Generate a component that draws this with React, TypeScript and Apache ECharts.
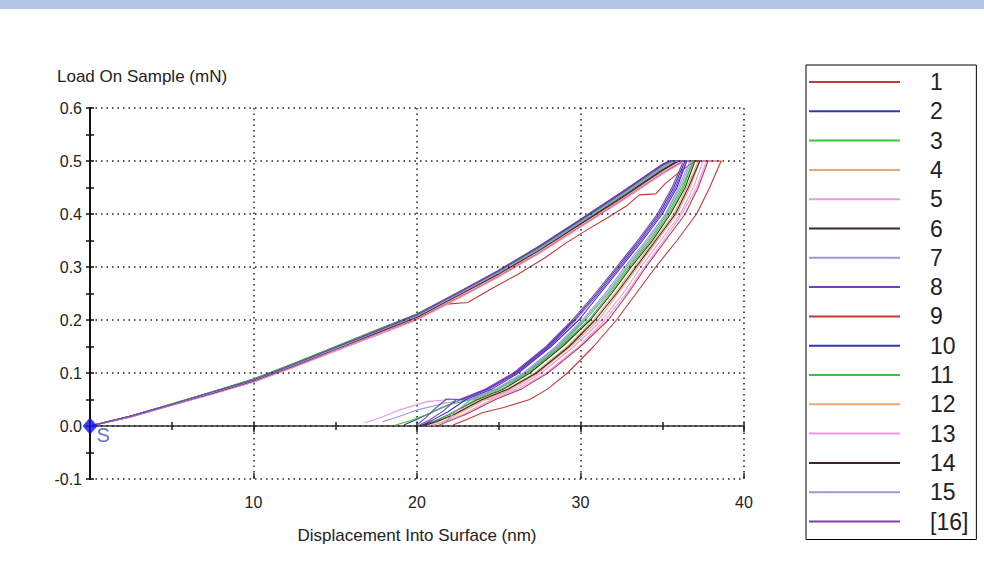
import React, { useEffect, useRef } from 'react';
import * as echarts from 'echarts';

// ---- Data ----
const SERIES_NAMES = ['1', '2', '3', '4', '5', '6', '7', '8', '9', '10', '11', '12', '13', '14', '15', '[16]'];
const SERIES_COLORS = [
  '#c03a3a', '#3434b4', '#3cc43c', '#e8a878', '#e69ae6', '#3e2626', '#9a9ad8', '#7a3cbc',
  '#c03a3a', '#3434b4', '#3cc43c', '#e8a878', '#e69ae6', '#3e2626', '#9a9ad8', '#7a3cbc',
];

// Loading segments: [displacement nm, load mN]
const LOADING_CURVES: number[][][] = [
  [[0, 0], [2.5, 0.018], [5, 0.04], [7.5, 0.062], [10, 0.085], [12.5, 0.114], [15, 0.144], [17.5, 0.174], [20, 0.203], [21.8, 0.23], [23.1, 0.233], [24.5, 0.258], [26.1, 0.285], [27.9, 0.319], [29.1, 0.345], [30.4, 0.37], [31.6, 0.392], [32.8, 0.415], [33.6, 0.436], [34.6, 0.438], [35.1, 0.455], [36.0, 0.478], [37.0, 0.5]],
  [[0, 0], [2.5, 0.019], [5, 0.041], [7.5, 0.064], [10, 0.087], [12.5, 0.117], [15, 0.148], [17.5, 0.179], [20, 0.21], [22.5, 0.251], [25, 0.293], [27.5, 0.339], [30, 0.389], [32.5, 0.44], [35, 0.492], [35.5, 0.5]],
  [[0, 0], [2.5, 0.019], [5, 0.042], [7.5, 0.065], [10, 0.089], [12.5, 0.119], [15, 0.15], [17.5, 0.181], [20, 0.212], [22.5, 0.252], [25, 0.292], [27.5, 0.336], [30, 0.385], [32.5, 0.434], [35, 0.486], [35.8, 0.5]],
  [[0, 0], [2.5, 0.018], [5, 0.04], [7.5, 0.062], [10, 0.085], [12.5, 0.114], [15, 0.145], [17.5, 0.175], [20, 0.205], [22.5, 0.245], [25, 0.286], [27.5, 0.331], [30, 0.38], [32.5, 0.429], [35, 0.482], [36.0, 0.5]],
  [[0, 0], [2.5, 0.017], [5, 0.039], [7.5, 0.061], [10, 0.084], [12.5, 0.113], [15, 0.143], [17.5, 0.172], [20, 0.202], [22.5, 0.242], [25, 0.283], [27.5, 0.328], [30, 0.377], [32.5, 0.426], [35, 0.478], [36.2, 0.5]],
  [[0, 0], [2.5, 0.018], [5, 0.04], [7.5, 0.063], [10, 0.086], [12.5, 0.115], [15, 0.146], [17.5, 0.176], [20, 0.206], [22.5, 0.247], [25, 0.288], [27.5, 0.333], [30, 0.382], [32.5, 0.432], [35, 0.484], [35.9, 0.5]],
  [[0, 0], [2.5, 0.018], [5, 0.041], [7.5, 0.063], [10, 0.087], [12.5, 0.116], [15, 0.147], [17.5, 0.178], [20, 0.208], [22.5, 0.249], [25, 0.291], [27.5, 0.337], [30, 0.387], [32.5, 0.437], [35, 0.49], [35.6, 0.5]],
  [[0, 0], [2.5, 0.019], [5, 0.041], [7.5, 0.064], [10, 0.088], [12.5, 0.118], [15, 0.149], [17.5, 0.18], [20, 0.211], [22.5, 0.252], [25, 0.294], [27.5, 0.34], [30, 0.39], [32.5, 0.441], [35, 0.494], [35.4, 0.5]],
  [[0, 0], [2.5, 0.017], [5, 0.039], [7.5, 0.061], [10, 0.083], [12.5, 0.112], [15, 0.142], [17.5, 0.171], [20, 0.201], [22.5, 0.241], [25, 0.282], [27.5, 0.327], [30, 0.376], [32.5, 0.425], [35, 0.476], [36.3, 0.5]],
  [[0, 0], [2.5, 0.019], [5, 0.041], [7.5, 0.064], [10, 0.087], [12.5, 0.117], [15, 0.148], [17.5, 0.179], [20, 0.209], [22.5, 0.25], [25, 0.292], [27.5, 0.338], [30, 0.388], [32.5, 0.439], [35, 0.492], [35.5, 0.5]],
  [[0, 0], [2.5, 0.019], [5, 0.042], [7.5, 0.064], [10, 0.088], [12.5, 0.118], [15, 0.149], [17.5, 0.18], [20, 0.21], [22.5, 0.25], [25, 0.291], [27.5, 0.336], [30, 0.386], [32.5, 0.436], [35, 0.488], [35.7, 0.5]],
  [[0, 0], [2.5, 0.018], [5, 0.04], [7.5, 0.062], [10, 0.085], [12.5, 0.114], [15, 0.144], [17.5, 0.174], [20, 0.204], [22.5, 0.244], [25, 0.285], [27.5, 0.33], [30, 0.379], [32.5, 0.428], [35, 0.48], [36.1, 0.5]],
  [[0, 0], [2.5, 0.017], [5, 0.039], [7.5, 0.06], [10, 0.083], [12.5, 0.111], [15, 0.141], [17.5, 0.171], [20, 0.2], [22.5, 0.24], [25, 0.281], [27.5, 0.326], [30, 0.375], [32.5, 0.424], [35, 0.475], [36.4, 0.5]],
  [[0, 0], [2.5, 0.018], [5, 0.04], [7.5, 0.062], [10, 0.085], [12.5, 0.114], [15, 0.145], [17.5, 0.175], [20, 0.205], [22.5, 0.246], [25, 0.287], [27.5, 0.332], [30, 0.381], [32.5, 0.43], [35, 0.482], [36.0, 0.5]],
  [[0, 0], [2.5, 0.018], [5, 0.04], [7.5, 0.063], [10, 0.086], [12.5, 0.115], [15, 0.146], [17.5, 0.177], [20, 0.207], [22.5, 0.248], [25, 0.289], [27.5, 0.334], [30, 0.384], [32.5, 0.434], [35, 0.486], [35.8, 0.5]],
  [[0, 0], [2.5, 0.019], [5, 0.041], [7.5, 0.064], [10, 0.087], [12.5, 0.117], [15, 0.148], [17.5, 0.179], [20, 0.21], [22.5, 0.251], [25, 0.293], [27.5, 0.339], [30, 0.389], [32.5, 0.44], [35, 0.492], [35.5, 0.5]],
];

// Unloading: displacement at each load level (first entry = end of hold at max load)
const UNLOAD_LEVELS = [0.5, 0.45, 0.4, 0.35, 0.3, 0.25, 0.2, 0.15, 0.1, 0.07, 0.05];
const UNLOAD_DEPTHS: number[][] = [
  [38.6, 37.9, 37.1, 35.9, 34.6, 33.4, 32.2, 30.8, 29.2, 28.0, 26.9],
  [36.4, 35.7, 34.8, 33.6, 32.3, 31.0, 29.6, 28.0, 26.0, 24.3, 22.7],
  [36.9, 36.2, 35.3, 34.2, 32.9, 31.7, 30.3, 28.7, 26.7, 25.0, 23.4],
  [37.2, 36.5, 35.7, 34.5, 33.3, 32.1, 30.8, 29.2, 27.2, 25.5, 23.9],
  [37.5, 36.9, 36.1, 34.9, 33.7, 32.6, 31.3, 29.6, 27.6, 26.0, 24.4],
  [37.0, 36.4, 35.5, 34.4, 33.1, 31.9, 30.6, 28.9, 26.9, 25.3, 23.7],
  [36.7, 36.0, 35.2, 34.0, 32.7, 31.5, 30.1, 28.5, 26.5, 24.8, 23.2],
  [36.3, 35.6, 34.7, 33.5, 32.2, 30.9, 29.5, 27.9, 25.9, 24.2, 22.6],
  [37.8, 37.2, 36.4, 35.2, 34.0, 32.9, 31.7, 30.0, 28.0, 26.4, 24.8],
  [36.5, 35.9, 35.0, 33.8, 32.5, 31.2, 29.9, 28.2, 26.2, 24.6, 23.0],
  [36.9, 36.3, 35.4, 34.3, 33.0, 31.8, 30.5, 28.8, 26.8, 25.2, 23.6],
  [37.3, 36.7, 35.9, 34.7, 33.5, 32.3, 31.1, 29.4, 27.4, 25.8, 24.2],
  [37.7, 37.1, 36.2, 35.1, 33.9, 32.8, 31.5, 29.9, 27.9, 26.2, 24.6],
  [37.3, 36.6, 35.8, 34.6, 33.4, 32.2, 30.9, 29.3, 27.3, 25.6, 24.0],
  [36.8, 36.1, 35.2, 34.1, 32.8, 31.6, 30.2, 28.6, 26.6, 24.9, 23.3],
  [36.5, 35.8, 34.9, 33.7, 32.4, 31.1, 29.7, 28.1, 26.1, 24.4, 22.8],
];

// Low-load tails of the unloading curves: [displacement nm, load mN]
const UNLOAD_TAILS: number[][][] = [
  [[25.3, 0.035], [24.0, 0.025], [23.0, 0.012], [22.2, 0.002]],
  [[21.2, 0.03], [20.1, 0.014], [19.2, 0.002]],
  [[21.9, 0.04], [20.8, 0.024], [19.6, 0.01], [18.7, 0.002]],
  [[22.4, 0.025], [21.4, 0.01], [20.6, 0.001]],
  [[22.0, 0.05], [20.6, 0.046], [18.9, 0.03], [17.8, 0.016], [16.8, 0.006]],
  [[22.0, 0.022], [21.0, 0.008], [20.2, 0.001]],
  [[21.8, 0.044], [20.0, 0.03], [18.9, 0.018], [17.9, 0.008]],
  [[21.8, 0.051], [21.0, 0.03], [20.5, 0.015], [20.0, 0.002]],
  [[23.0, 0.022], [22.0, 0.01], [21.3, 0.001]],
  [[21.9, 0.027], [21.0, 0.012], [20.3, 0.001]],
  [[22.2, 0.026], [21.2, 0.01], [20.5, 0.001]],
  [[22.6, 0.024], [21.7, 0.01], [21.0, 0.001]],
  [[22.8, 0.022], [21.7, 0.008], [20.8, 0.001]],
  [[22.3, 0.022], [21.2, 0.008], [20.4, 0.001]],
  [[22.3, 0.026], [21.9, 0.012], [21.5, 0.001]],
  [[22.4, 0.05], [21.6, 0.028], [20.8, 0.012], [20.1, 0.001]],
];

const START_POINT = [[0, 0]];

const X_MIN = 0;
const X_MAX = 40;
const Y_MIN = -0.1;
const Y_MAX = 0.6;

const FONT = "'Liberation Sans', Arial, sans-serif";

function buildCurve(i: number): number[][] {
  const unload = UNLOAD_LEVELS.map((p, j) => [UNLOAD_DEPTHS[i][j], p]);
  return [...LOADING_CURVES[i], ...unload, ...UNLOAD_TAILS[i]];
}

function tickAxis(interval: number, inside: boolean, length: number, showLine: boolean) {
  return {
    type: 'value', min: X_MIN, max: X_MAX, interval, position: 'bottom',
    axisLine: { show: showLine, onZero: true, lineStyle: { color: '#333', width: 1.6 } },
    axisTick: { show: true, inside, length, lineStyle: { color: '#222', width: 1.5 } },
    axisLabel: { show: false },
    splitLine: { show: false },
  };
}

export default function App() {
  const ref = useRef<HTMLDivElement>(null);

  useEffect(() => {
    if (!ref.current) return;
    const chart = echarts.init(ref.current, undefined, { renderer: 'svg' });

    const dotted = { color: '#222', width: 1.5, type: [1.5, 4] as number[] };

    const lineSeries = SERIES_NAMES.map((name, i) => ({
      name,
      type: 'line',
      data: buildCurve(i),
      showSymbol: false,
      symbol: 'none',
      lineStyle: { width: 1.1, color: SERIES_COLORS[i] },
      itemStyle: { color: SERIES_COLORS[i] },
      emphasis: { disabled: true },
      z: 3,
    }));

    const option: any = {
      animation: false,
      color: SERIES_COLORS,
      textStyle: { fontFamily: FONT },
      grid: { left: 90, right: 240, top: 108, bottom: 107, containLabel: false },
      graphic: [
        { type: 'rect', left: 0, top: 0, shape: { width: 984, height: 9 }, style: { fill: '#b4c6e7' }, silent: true },
        {
          type: 'text', left: 57, top: 68, silent: true,
          style: { text: 'Load On Sample (mN)', fontSize: 17, fill: '#222', fontFamily: FONT },
        },
      ],
      legend: {
        orient: 'vertical',
        left: 806,
        top: 65,
        padding: [5, 8, 6, 3],
        itemWidth: 91,
        itemHeight: 2,
        itemGap: 5.3,
        icon: 'rect',
        itemStyle: { borderWidth: 0 },
        borderColor: '#000',
        borderWidth: 1,
        backgroundColor: '#fff',
        selectedMode: false,
        data: SERIES_NAMES,
        textStyle: { fontSize: 23, color: '#222', lineHeight: 24, padding: [0, 0, 0, 25], fontFamily: FONT },
      },
      xAxis: [
        {
          type: 'value', min: X_MIN, max: X_MAX, interval: 10, position: 'bottom',
          name: 'Displacement Into Surface (nm)', nameLocation: 'middle', nameGap: 48,
          nameTextStyle: { fontSize: 17, color: '#222', fontFamily: FONT },
          axisLine: { show: false, onZero: false },
          axisTick: { show: false },
          axisLabel: { fontSize: 16, color: '#222', margin: 15, formatter: (v: number) => (v === 0 ? '' : String(v)) },
          splitLine: { show: true, lineStyle: dotted },
        },
        tickAxis(5, false, 4, true),
        tickAxis(5, true, 4, false),
        tickAxis(10, false, 6, false),
        tickAxis(10, true, 6, false),
      ],
      yAxis: [
        {
          type: 'value', min: Y_MIN, max: Y_MAX, interval: 0.1, position: 'left',
          axisLine: { show: true, lineStyle: { color: '#111', width: 2 } },
          axisTick: { show: false },
          axisLabel: { fontSize: 16, color: '#222', margin: 8, formatter: (v: number) => v.toFixed(1) },
          splitLine: { show: true, lineStyle: dotted },
          z: 5,
        },
        {
          type: 'value', min: Y_MIN, max: Y_MAX, interval: 0.05, position: 'left',
          axisLine: { show: false },
          axisTick: { show: true, length: 4, lineStyle: { color: '#111', width: 1.5 } },
          axisLabel: { show: false },
          splitLine: { show: false },
        },
        {
          type: 'value', min: Y_MIN, max: Y_MAX, interval: 0.05, position: 'left',
          axisLine: { show: false },
          axisTick: { show: true, inside: true, length: 4, lineStyle: { color: '#111', width: 1.5 } },
          axisLabel: { show: false },
          splitLine: { show: false },
        },
      ],
      series: [
        ...lineSeries,
        {
          name: 'S',
          type: 'scatter',
          data: START_POINT,
          symbol: 'diamond',
          symbolSize: [15, 17],
          clip: false,
          itemStyle: { color: '#0a12e6' },
          label: {
            show: true, formatter: 'S', position: [14, 7],
            color: '#3848c8', fontSize: 20, fontFamily: FONT,
          },
          emphasis: { disabled: true },
          z: 10,
        },
      ],
    };

    chart.setOption(option);
    return () => chart.dispose();
  }, []);

  return (
    <div
      ref={ref}
      style={{ position: 'absolute', left: 0, top: 0, width: 984, height: 586, background: '#fff' }}
    />
  );
}
